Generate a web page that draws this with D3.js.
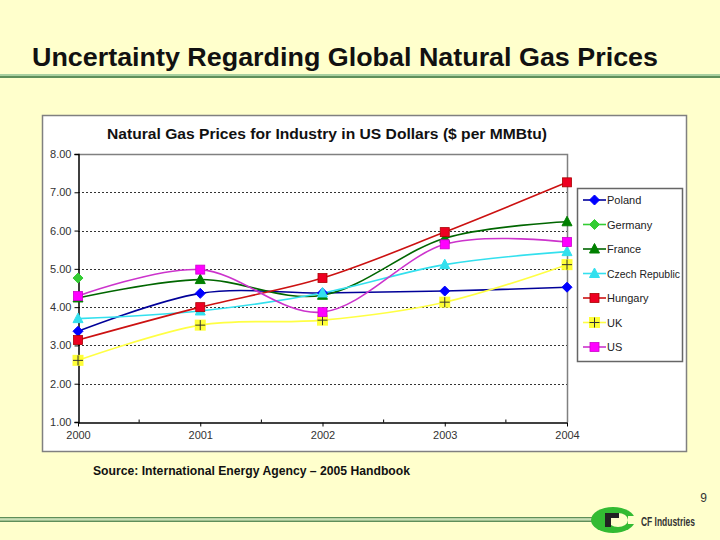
<!DOCTYPE html>
<html><head><meta charset="utf-8">
<script src="https://cdn.jsdelivr.net/npm/d3@7"></script>
<style>body{margin:0;background:#FFFFCC}svg{display:block}text{font-family:"Liberation Sans",Arial,sans-serif}</style>
</head><body>
<svg id="c" width="720" height="540"></svg>
<script>
const years = [2000, 2001, 2002, 2003, 2004];
const yTicks = [1, 2, 3, 4, 5, 6, 7, 8];
const seriesNames = ["Poland", "Germany", "France", "Czech Republic", "Hungary", "UK", "US"];
const poland = [3.37, 4.36, 4.37, 4.42, 4.52];
const germany = [4.76, null, null, null, null];
const france = [4.24, 4.72, 4.31, 5.80, 6.23];
const czech = [3.70, 3.90, 4.37, 5.11, 5.45];
const hungary = [3.14, 4.00, 4.76, 5.96, 7.26];
const uk = [2.61, 3.53, 3.66, 4.13, 5.11];
const us = [4.29, 4.98, 3.87, 5.64, 5.70];

const series = [
  {name: seriesNames[0], values: poland, line: "#000099", fill: "#0000FF", shape: "diamond"},
  {name: seriesNames[1], values: germany, line: "#33CC33", fill: "#33CC33", shape: "diamond"},
  {name: seriesNames[2], values: france, line: "#006600", fill: "#008000", shape: "triangle"},
  {name: seriesNames[3], values: czech, line: "#33E0EE", fill: "#33E0EE", shape: "triangle"},
  {name: seriesNames[4], values: hungary, line: "#CC1111", fill: "#EE0022", shape: "square"},
  {name: seriesNames[5], values: uk, line: "#FFFF44", fill: "#FFFF00", shape: "plus"},
  {name: seriesNames[6], values: us, line: "#CC33CC", fill: "#FF00FF", shape: "square"}
];

const svg = d3.select("#c");
svg.append("rect").attr("width", 720).attr("height", 540).attr("fill", "#FFFFCC");

// slide title
svg.append("text").attr("x", 32).attr("y", 66).attr("font-size", 26).attr("font-weight", "bold")
  .attr("fill", "#111").attr("textLength", 626).attr("lengthAdjust", "spacingAndGlyphs")
  .text("Uncertainty Regarding Global Natural Gas Prices");
svg.append("rect").attr("x", 0).attr("y", 74).attr("width", 720).attr("height", 2).attr("fill", "#A8D0A0");
svg.append("rect").attr("x", 0).attr("y", 76).attr("width", 720).attr("height", 2).attr("fill", "#5F8F5A");

// chart box
svg.append("rect").attr("x", 42.5).attr("y", 115.5).attr("width", 644).attr("height", 336)
  .attr("fill", "#FFFFFF").attr("stroke", "#808080").attr("stroke-width", 1.5);

svg.append("text").attr("x", 107).attr("y", 139)
  .attr("font-size", 15).attr("font-weight", "bold").attr("fill", "#111")
  .attr("textLength", 440).attr("lengthAdjust", "spacingAndGlyphs")
  .text("Natural Gas Prices for Industry in US Dollars ($ per MMBtu)");

const x = d3.scalePoint().domain(years).range([78, 567]);
const y = d3.scaleLinear().domain([1, 8]).range([422, 154]);

// gridlines
svg.append("g").selectAll("line").data(yTicks.filter(d => d > 1 && d < 8)).join("line")
  .attr("x1", 78).attr("x2", 567).attr("y1", d => Math.round(y(d)) + 0.5).attr("y2", d => Math.round(y(d)) + 0.5)
  .attr("stroke", "#333").attr("stroke-dasharray", "2,2").attr("stroke-width", 1);

// plot area border (top / right)
svg.append("path").attr("d", `M78,${y(8)+0.5}H567.5V422`).attr("fill", "none").attr("stroke", "#808080").attr("stroke-width", 1.5);

// y axis
const yAxis = d3.axisLeft(y).tickValues(yTicks).tickFormat(d3.format(".2f")).tickSize(4).tickPadding(3);
const gy = svg.append("g").attr("transform", "translate(78.5,0)").call(yAxis);
gy.select(".domain").attr("stroke", "#000").attr("stroke-width", 1.5);
gy.selectAll(".tick line").attr("stroke", "#000");
gy.selectAll("text").attr("font-size", 11).attr("fill", "#333").attr("font-family", "Liberation Sans, Arial, sans-serif");

// x axis
const xAxis = d3.axisBottom(x).tickSize(4).tickPadding(5).tickSizeOuter(0);
const gx = svg.append("g").attr("transform", "translate(0,422.5)").call(xAxis);
gx.select(".domain").attr("stroke", "#000").attr("stroke-width", 1.5);
gx.selectAll(".tick line").attr("stroke", "#000");
gx.selectAll("text").attr("font-size", 11).attr("fill", "#333").attr("font-family", "Liberation Sans, Arial, sans-serif");
// minor ticks between categories
gx.append("g").selectAll("line").data(years.slice(0, -1)).join("line")
  .attr("x1", d => (x(d) + x(d + 1)) / 2).attr("x2", d => (x(d) + x(d + 1)) / 2)
  .attr("y1", 0).attr("y2", -3).attr("stroke", "#000");

// lines
const line = d3.line().defined(d => d.v != null).x(d => x(d.year)).y(d => y(d.v)).curve(d3.curveCatmullRom.alpha(0));
const gl = svg.append("g");
series.forEach(s => {
  const pts = years.map((yr, i) => ({year: yr, v: s.values[i]}));
  gl.append("path").datum(pts).attr("d", line).attr("fill", "none").attr("stroke", s.line).attr("stroke-width", 1.6);
});

function drawMarker(g, shape, cx, cy, s) {
  if (shape === "diamond") {
    g.append("path").attr("d", `M${cx},${cy-5}L${cx+5},${cy}L${cx},${cy+5}L${cx-5},${cy}Z`).attr("fill", s.fill).attr("stroke", s.fill);
  } else if (shape === "square") {
    g.append("rect").attr("x", cx - 4.5).attr("y", cy - 4.5).attr("width", 9).attr("height", 9).attr("fill", s.fill).attr("stroke", s.fill === "#EE0022" ? "#AA0000" : "#CC00CC").attr("stroke-width", 0.8);
  } else if (shape === "triangle") {
    g.append("path").attr("d", `M${cx},${cy-5.5}L${cx+5},${cy+4}L${cx-5},${cy+4}Z`).attr("fill", s.fill).attr("stroke", s.fill);
  } else if (shape === "plus") {
    g.append("rect").attr("x", cx - 5.5).attr("y", cy - 5.5).attr("width", 11).attr("height", 11).attr("fill", "#FFFF22").attr("opacity", 0.9);
    g.append("path").attr("d", `M${cx-5},${cy}H${cx+5}M${cx},${cy-5}V${cy+5}`).attr("stroke", "#333").attr("stroke-width", 1);
  }
}

const gm = svg.append("g");
series.forEach(s => {
  years.forEach((yr, i) => {
    if (s.values[i] != null) drawMarker(gm, s.shape, x(yr), y(s.values[i]), s);
  });
});

// legend
svg.append("rect").attr("x", 577.5).attr("y", 188.5).attr("width", 105).attr("height", 173)
  .attr("fill", "#FFFFFF").attr("stroke", "#666").attr("stroke-width", 1.5);
const lg = svg.append("g");
series.forEach((s, i) => {
  const cy = 200 + i * 24.5;
  lg.append("line").attr("x1", 583).attr("x2", 606).attr("y1", cy).attr("y2", cy).attr("stroke", s.line).attr("stroke-width", 1.6);
  drawMarker(lg, s.shape, 594.5, cy, s);
  const t = lg.append("text").attr("x", 607).attr("y", cy + 4).attr("font-size", 11).attr("fill", "#222").text(s.name);
  if (t.node().getComputedTextLength() > 73) t.attr("textLength", 73).attr("lengthAdjust", "spacingAndGlyphs");
});

// source
svg.append("text").attr("x", 93).attr("y", 475).attr("font-size", 12).attr("font-weight", "bold").attr("fill", "#111")
  .attr("textLength", 317).attr("lengthAdjust", "spacingAndGlyphs")
  .text("Source:  International Energy Agency \u2013 2005 Handbook");

// page number
svg.append("text").attr("x", 707).attr("y", 502).attr("text-anchor", "end").attr("font-size", 12).attr("fill", "#333").text("9");

// bottom rule
svg.append("rect").attr("x", 0).attr("y", 517).attr("width", 595).attr("height", 1.5).attr("fill", "#5F8F5A");
svg.append("rect").attr("x", 0).attr("y", 518.5).attr("width", 595).attr("height", 2).attr("fill", "#C8E0B8");
svg.append("rect").attr("x", 0).attr("y", 520.5).attr("width", 595).attr("height", 1.5).attr("fill", "#5F8F5A");

// logo
const logo = svg.append("g");
logo.append("ellipse").attr("cx", 613).attr("cy", 520).attr("rx", 22).attr("ry", 13).attr("fill", "#33BB33");
logo.append("ellipse").attr("cx", 618).attr("cy", 520).attr("rx", 10).attr("ry", 7).attr("fill", "#FFFFCC");
logo.append("rect").attr("x", 628).attr("y", 516).attr("width", 10).attr("height", 8).attr("fill", "#FFFFCC");
logo.append("path").attr("d", "M605,513H619V518H611V527H605Z").attr("fill", "#222");
const lt = logo.append("text").attr("x", 0).attr("y", 0).attr("font-size", 13).attr("font-weight", "bold").attr("fill", "#333")
  .text("CF Industries");
const natural = lt.node().getComputedTextLength();
lt.attr("transform", `translate(641,526) scale(${54 / natural},1)`);
</script>
</body></html>
